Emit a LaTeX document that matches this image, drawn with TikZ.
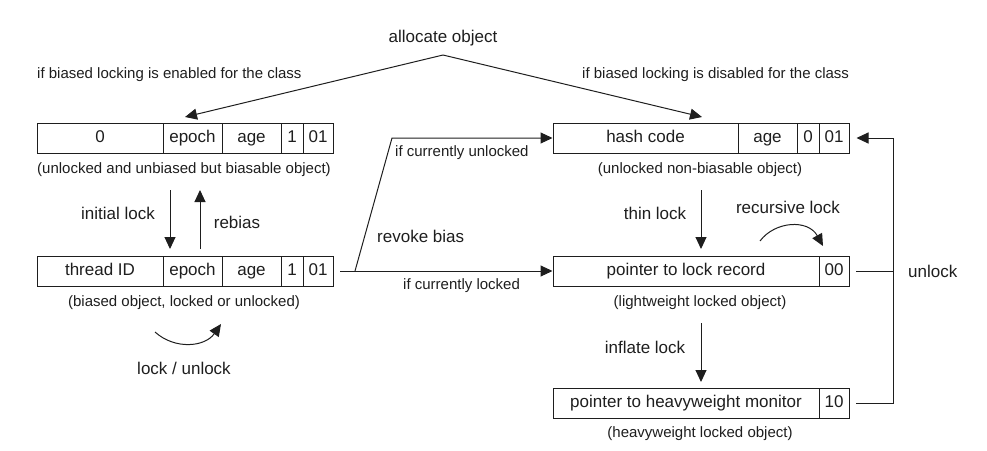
\documentclass[tikz,border=0pt]{standalone}
\usepackage{fontspec}
\setmainfont{Liberation Sans}
\usetikzlibrary{arrows.meta}
\definecolor{ink}{RGB}{30,30,30}
\tikzset{
  cell/.style={draw=ink, line width=1pt, minimum height=30pt, inner sep=0pt, text=ink, text height=12.5pt, text depth=3.5pt, font=\fontsize{17}{20}\selectfont},
  lbl/.style={text=ink, inner sep=0pt, font=\fontsize{17}{20}\selectfont},
  small/.style={text=ink, inner sep=0pt, font=\fontsize{15}{18}\selectfont},
  big/.style={text=ink, inner sep=0pt, font=\fontsize{17}{20}\selectfont},
  conn/.style={draw=ink, line width=1pt},
  arr/.style={conn, -{Triangle[length=12pt,width=11pt]}},
}
\begin{document}
\begin{tikzpicture}[x=1pt,y=-1pt]
\useasboundingbox (0,0) rectangle (987,450);
% box 1
\node[cell, minimum width=126pt] (a0) at (100,138) {0};
\node[cell, minimum width=59pt] (a1) at (192.5,138) {epoch};
\node[cell, minimum width=59pt] (a2) at (251.5,138) {age};
\node[cell, minimum width=22pt] (a3) at (292,138) {1};
\node[cell, minimum width=30pt] (a4) at (318,138) {01};
\node[small] (ca) at (184,170) {(unlocked and unbiased but biasable object)};
% box 2
\node[cell, minimum width=126pt] (b0) at (100,271) {thread ID};
\node[cell, minimum width=59pt] (b1) at (192.5,271) {epoch};
\node[cell, minimum width=59pt] (b2) at (251.5,271) {age};
\node[cell, minimum width=22pt] (b3) at (292,271) {1};
\node[cell, minimum width=30pt] (b4) at (318,271) {01};
\node[small] (cb) at (184,303) {(biased object, locked or unlocked)};
% box 3
\node[cell, minimum width=185pt] (h0) at (645.5,138) {hash code};
\node[cell, minimum width=59pt] (h1) at (767.5,138) {age};
\node[cell, minimum width=22pt] (h2) at (808,138) {0};
\node[cell, minimum width=30pt] (h3) at (834,138) {01};
\node[small] (ch) at (700,170) {(unlocked non-biasable object)};
% box 4
\node[cell, minimum width=266pt] (l0) at (686,271) {pointer to lock record};
\node[cell, minimum width=30pt] (l1) at (834,271) {00};
\node[small] (cl) at (700,303) {(lightweight locked object)};
% box 5
\node[cell, minimum width=266pt] (m0) at (686,403) {pointer to heavyweight monitor};
\node[cell, minimum width=30pt] (m1) at (834,403) {10};
\node[small] (cm) at (700,434) {(heavyweight locked object)};

% allocate
\node[big] (alloc) at (443,38) {allocate object};
\node[small, anchor=west] (en) at (37,75) {if biased locking is enabled for the class};
\node[small, anchor=west] (dis) at (582,75) {if biased locking is disabled for the class};
\coordinate (apex) at (443,55);
\coordinate (tipL) at (185,117);
\coordinate (tipR) at (702,117);
\draw[arr] (apex) -- (tipL);
\draw[arr] (apex) -- (tipR);

% initial lock / rebias
\coordinate (il1) at (170,190); \coordinate (il2) at (170,249);
\coordinate (rb1) at (200,249); \coordinate (rb2) at (200,190);
\draw[arr] (il1) -- (il2);
\draw[arr] (rb1) -- (rb2);
\node[lbl] (ilt) at (118,213) {initial lock};
\node[lbl] (rbt) at (237,222) {rebias};

% lock / unlock
\coordinate (lu1) at (155,332); \coordinate (lu2) at (221,324);
\draw[arr] (lu1) .. controls (175,350) and (205,347) .. (lu2);
\node[lbl] (lut) at (184,368) {lock / unlock};

% revoke bias
\coordinate (rv0) at (340,271);
\coordinate (rv1) at (355,271);
\coordinate (rv2) at (392,138);
\draw[conn] (rv0) -- (rv1);
\draw[arr] (rv1) -- (rv2) -- (h0.west);
\draw[arr] (rv1) -- (l0.west);
\node[small, anchor=west] (cu) at (395,153) {if currently unlocked};
\node[lbl, anchor=west] (rvt) at (377,236) {revoke bias};
\node[small, anchor=west] (cl2) at (403,286) {if currently locked};

% thin lock
\coordinate (tl1) at (701,190); \coordinate (tl2) at (701,249);
\draw[arr] (tl1) -- (tl2);
\node[lbl] (tlt) at (655,213) {thin lock};

% recursive lock
\coordinate (rc1) at (760,241); \coordinate (rc2) at (823,246);
\draw[arr] (rc1) .. controls (775,221) and (808,219) .. (rc2);
\node[lbl] (rct) at (788,207) {recursive lock};

% inflate lock
\coordinate (fl1) at (701,323); \coordinate (fl2) at (701,382);
\draw[arr] (fl1) -- (fl2);
\node[lbl] (flt) at (645,347) {inflate lock};

% unlock
\coordinate (u1) at (856,403);
\coordinate (u2) at (893,403);
\coordinate (u3) at (893,138);
\coordinate (u4) at (856,271);
\coordinate (u5) at (893,271);
\draw[arr] (u1) -- (u2) -- (u3) -- ([xshift=7pt]h3.east);
\draw[conn] (u4) -- (u5);
\node[lbl, anchor=west] (ut) at (908,271) {unlock};
\end{tikzpicture}
\end{document}
